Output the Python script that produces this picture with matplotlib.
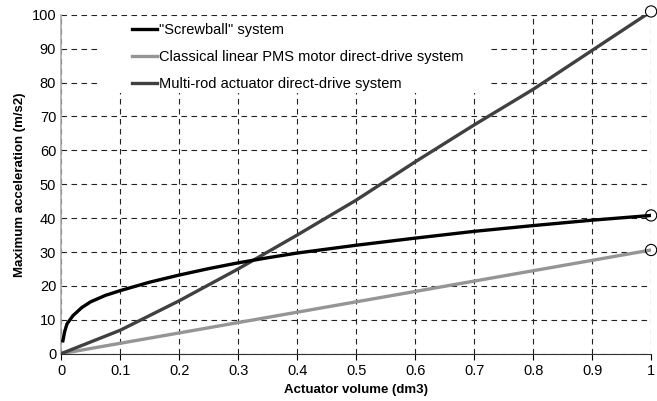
import numpy as np
import matplotlib.pyplot as plt
from matplotlib.patches import Rectangle

plt.rcParams['font.family'] = ['Liberation Sans', 'DejaVu Sans']

# Values
x_screw = [0.003, 0.006, 0.01, 0.02, 0.035, 0.05, 0.075, 0.1, 0.15, 0.2, 0.25,
           0.3, 0.35, 0.4, 0.5, 0.6, 0.7, 0.8, 0.9, 1.0]
y_screw = [3.8, 6.5, 8.8, 11.2, 13.6, 15.3, 17.2, 18.6, 21.1, 23.2, 25.1,
           26.8, 28.3, 29.7, 32.0, 34.1, 36.1, 37.8, 39.4, 40.8]

x_pms = [0.0, 1.0]
y_pms = [0.0, 30.6]

x_rod = [0.0, 0.1, 0.2, 0.3, 0.4, 0.5, 0.6, 0.7, 0.8, 0.9, 1.0]
y_rod = [0.0, 6.9, 15.6, 25.0, 35.0, 45.3, 56.6, 67.5, 78.0, 89.5, 101.0]

end_x = [1.0, 1.0, 1.0]
end_y = [101.0, 40.8, 30.6]

labels = ['"Screwball" system',
          'Classical linear PMS motor direct-drive system',
          'Multi-rod actuator direct-drive system']

fig = plt.figure(figsize=(6.57, 4.01), dpi=100)
ax = fig.add_axes([0.093, 0.118, 0.898, 0.845])

ax.plot(x_screw, y_screw, color='black', lw=2.4, label=labels[0], zorder=4)
ax.plot(x_pms, y_pms, color='#959595', lw=2.4, label=labels[1], zorder=3)
ax.plot(x_rod, y_rod, color='#404040', lw=2.4, label=labels[2], zorder=3)
ax.scatter(end_x, end_y, s=65, facecolors='none', edgecolors='black',
           linewidths=0.8, zorder=5, clip_on=False)

ax.set_xlim(0, 1)
ax.set_ylim(0, 100)
ax.set_xticks(np.arange(0, 1.01, 0.1))
ax.set_xticklabels(['0', '0.1', '0.2', '0.3', '0.4', '0.5', '0.6', '0.7',
                    '0.8', '0.9', '1'])
ax.set_yticks(np.arange(0, 101, 10))
ax.grid(True, linestyle=(0, (5, 4)), color='#222222', lw=0.8)
ax.set_axisbelow(True)

# white area behind the legend hides the grid there
ax.add_patch(Rectangle((0.066, 77), 0.661, 22, facecolor='white',
                       edgecolor='none', zorder=1))

for s in ['top', 'right']:
    ax.spines[s].set_visible(False)
ax.spines['left'].set_color('#aaaaaa')
ax.spines['left'].set_linewidth(1.2)
ax.spines['bottom'].set_color('#333333')
ax.tick_params(axis='both', labelsize=10.5, length=4, width=0.8)
ax.tick_params(axis='y', length=0)

ax.set_xlabel('Actuator volume (dm3)', fontsize=9.5, fontweight='bold')
ax.set_ylabel('Maximum acceleration (m/s2)', fontsize=9.5, fontweight='bold')

leg = ax.legend(loc='upper left', bbox_to_anchor=(0.12, 0.977), frameon=False,
                fontsize=10.5, handlelength=1.7, handletextpad=0.15,
                labelspacing=0.92, borderpad=0, borderaxespad=0)

fig.savefig('out.png', dpi=100)
